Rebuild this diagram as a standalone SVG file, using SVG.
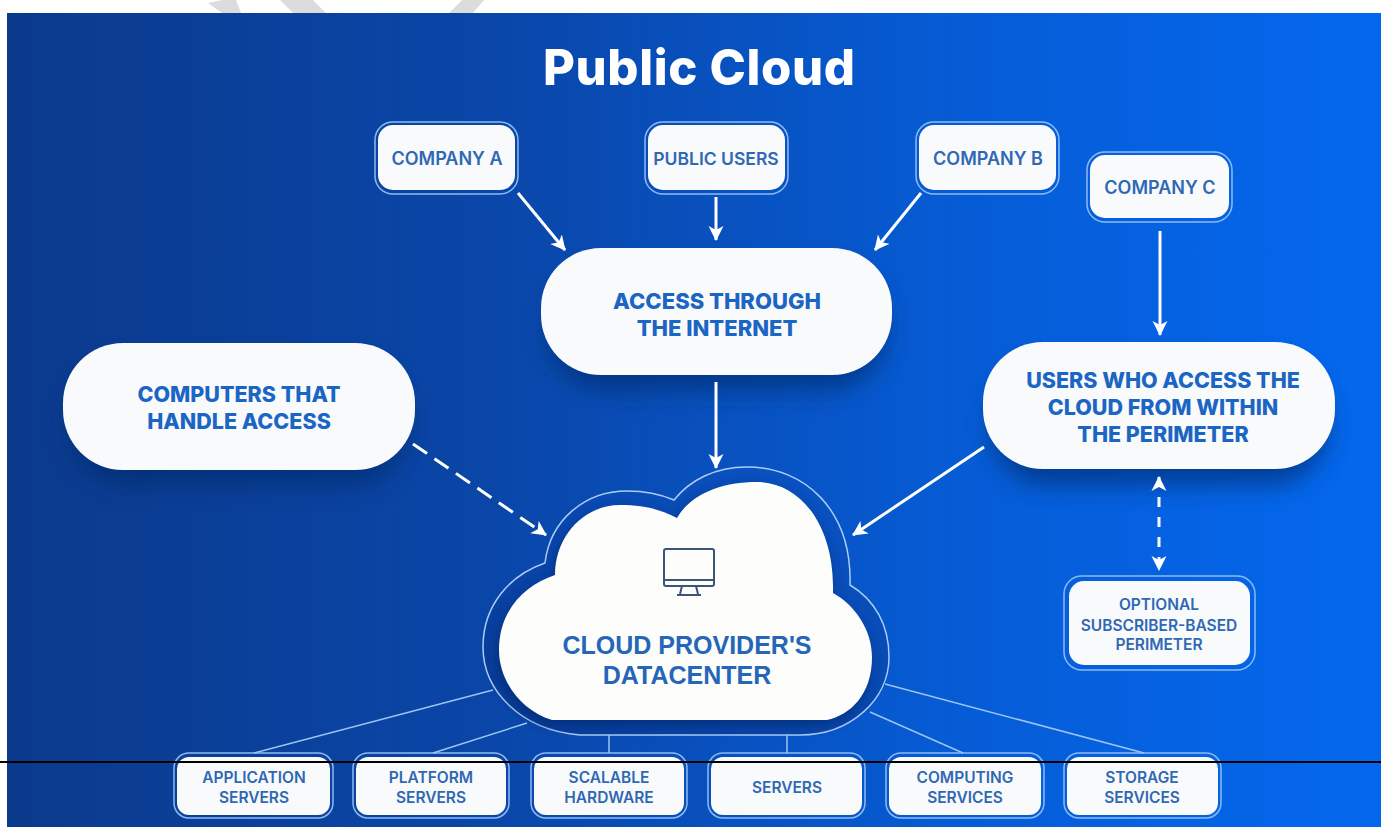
<svg xmlns="http://www.w3.org/2000/svg" width="1381" height="827" viewBox="0 0 1381 827">
<defs>
<linearGradient id="bg" x1="0" y1="0" x2="1" y2="0"><stop offset="0" stop-color="#0b3a8c"/><stop offset="0.35" stop-color="#0a46a8"/><stop offset="0.7" stop-color="#065cd6"/><stop offset="1" stop-color="#0468ee"/></linearGradient>
<linearGradient id="ring" x1="0" y1="1" x2="1" y2="0"><stop offset="0" stop-color="#083a94"/><stop offset="1" stop-color="#0a55c8"/></linearGradient>
<filter id="sh" x="-20%" y="-30%" width="140%" height="180%"><feGaussianBlur stdDeviation="12"/></filter>
<filter id="sm" x="-10%" y="-10%" width="120%" height="120%"><feGaussianBlur stdDeviation="6"/></filter>
<marker id="a" markerUnits="userSpaceOnUse" markerWidth="16" markerHeight="16" refX="14" refY="8" orient="auto-start-reverse"><path d="M0 0.5L15 8L0 15.5L4 8Z" fill="#fff"/></marker>
<path id="cloud" d="M552 720C520 710 499 680 499 650C499 610 525 585 555 575C555 535 585 505 620 505C645 505 662 510 677 518C690 495 720 482 757 482C800 482 835 525 833 593C855 605 872 630 872 657C872 695 850 715 827 720Z"/>
</defs>
<style>
.c{stroke:#fff;stroke-width:3;fill:none;marker-end:url(#a)}
.t{stroke:#9cc4f5;stroke-width:1.5;fill:none}
.f{fill:#f9fafb}
.o{fill:none;stroke:#8dbaf2;stroke-width:1.5}
.s{fill:#06296b;opacity:.65}
text{font-family:"Inter","Liberation Sans",Arial,sans-serif;font-weight:600;fill:#2f68b4;text-anchor:middle}
.b{font-weight:800;font-size:21.5px;fill:#1b65c4}
.m{font-size:18px}
.n{font-size:15.5px}
</style>
<rect width="1381" height="827" fill="#fff"/>
<path d="M208 3L222 0H236L241 13H222ZM280 0H313L326 13H293ZM462 0H484L473 13H449Z" fill="#dcdcdc"/>
<rect x="7" y="13" width="1374" height="814" fill="url(#bg)"/>
<text x="699" y="85" font-size="49" style="fill:#fff;font-weight:800" textLength="312">Public Cloud</text>
<g id="cloud-node">
<path d="M580 735C520 730 483 690 483 647C483 605 510 575 545 563C550 520 585 491 627 491C645 491 660 494 674 500C690 480 715 467 747 467C805 467 852 510 850 585C875 600 889 625 889 657C889 700 850 735 800 735Z" fill="url(#ring)" stroke="#a9cdf7" stroke-width="1.5"/>
<use href="#cloud" fill="#062a70" opacity=".7" filter="url(#sm)" transform="translate(-2 5)"/>
<use href="#cloud" fill="#fdfdfb"/>
<text x="687" y="654" font-size="25" style="font-family:'Liberation Sans',Arial,sans-serif;font-weight:700;fill:#2566b8">CLOUD PROVIDER'S</text>
<text x="687" y="684" font-size="25" style="font-family:'Liberation Sans',Arial,sans-serif;font-weight:700;fill:#2566b8">DATACENTER</text>
<g fill="none" stroke="#3a5578" stroke-width="2"><rect x="664" y="549" width="50" height="37" rx="2"/><path d="M664 580H714M682 586L680 594M696 586L698 594M677 595H701"/></g>
</g>
<g id="company-a"><rect class="o" x="375" y="122" width="143" height="72" rx="18"/><rect class="f" x="378" y="125" width="137" height="65" rx="15"/><text class="m" x="447" y="165">COMPANY A</text></g>
<g id="public-users"><rect class="o" x="645" y="122" width="143" height="72" rx="18"/><rect class="f" x="648" y="125" width="137" height="65" rx="15"/><text class="m" x="716" y="165" style="font-size:17.5px">PUBLIC USERS</text></g>
<g id="company-b"><rect class="o" x="916" y="122" width="143" height="72" rx="18"/><rect class="f" x="919" y="125" width="137" height="65" rx="15"/><text class="m" x="988" y="165">COMPANY B</text></g>
<g id="company-c"><rect class="o" x="1087" y="152" width="145" height="70" rx="18"/><rect class="f" x="1090" y="155" width="139" height="63" rx="15"/><text class="m" x="1160" y="194">COMPANY C</text></g>
<g id="access"><rect class="s" x="548" y="268" width="338" height="122" rx="58" filter="url(#sh)"/><rect class="f" x="541" y="248" width="351" height="127" rx="60"/><text class="b" x="717" y="309" style="font-size:22px">ACCESS THROUGH</text><text class="b" x="717" y="336" style="font-size:22px">THE INTERNET</text></g>
<g id="computers"><rect class="s" x="70" y="363" width="338" height="122" rx="58" filter="url(#sh)"/><rect class="f" x="63" y="343" width="352" height="127" rx="60"/><text class="b" x="239" y="402">COMPUTERS THAT</text><text class="b" x="239" y="429">HANDLE ACCESS</text></g>
<g id="perimeter-users"><rect class="s" x="990" y="363" width="338" height="122" rx="58" filter="url(#sh)"/><rect class="f" x="983" y="342" width="352" height="127" rx="60"/><text class="b" x="1163" y="388">USERS WHO ACCESS THE</text><text class="b" x="1163" y="415">CLOUD FROM WITHIN</text><text class="b" x="1163" y="442">THE PERIMETER</text></g>
<g id="optional"><rect class="o" x="1064" y="576" width="191" height="94" rx="18"/><rect class="f" x="1069" y="581" width="181" height="84" rx="15"/><text class="n" x="1159" y="610">OPTIONAL</text><text class="n" x="1159" y="631">SUBSCRIBER-BASED</text><text class="n" x="1159" y="650">PERIMETER</text></g>
<g id="app"><rect class="o" x="174" y="753" width="159" height="65" rx="15"/><rect class="f" x="177" y="757" width="153" height="58" rx="12"/><text class="n" x="254" y="783">APPLICATION</text><text class="n" x="254" y="803">SERVERS</text></g>
<g id="plat"><rect class="o" x="353" y="753" width="156" height="65" rx="15"/><rect class="f" x="356" y="757" width="150" height="58" rx="12"/><text class="n" x="431" y="783">PLATFORM</text><text class="n" x="431" y="803">SERVERS</text></g>
<g id="scal"><rect class="o" x="531" y="753" width="156" height="65" rx="15"/><rect class="f" x="534" y="757" width="150" height="58" rx="12"/><text class="n" x="609" y="783">SCALABLE</text><text class="n" x="609" y="803">HARDWARE</text></g>
<g id="serv"><rect class="o" x="708" y="753" width="157" height="65" rx="15"/><rect class="f" x="711" y="757" width="151" height="58" rx="12"/><text class="n" x="787" y="793">SERVERS</text></g>
<g id="comp"><rect class="o" x="886" y="753" width="158" height="65" rx="15"/><rect class="f" x="889" y="757" width="152" height="58" rx="12"/><text class="n" x="965" y="783">COMPUTING</text><text class="n" x="965" y="803">SERVICES</text></g>
<g id="stor"><rect class="o" x="1064" y="753" width="157" height="65" rx="15"/><rect class="f" x="1067" y="757" width="151" height="58" rx="12"/><text class="n" x="1142" y="783">STORAGE</text><text class="n" x="1142" y="803">SERVICES</text></g>
<g id="connectors">
<path class="c" d="M518 193L565 250"/><path class="c" d="M716 197V240"/><path class="c" d="M921 193L875 250"/><path class="c" d="M1160 231V335"/><path class="c" d="M716 382V468"/><path class="c" stroke-dasharray="17 9" d="M413 444L546 535"/><path class="c" d="M984 447L853 535"/>
<path class="c" stroke-dasharray="10 10" marker-start="url(#a)" d="M1159 477V570"/>
<path class="t" d="M254 753L493 690M433 753L527 723M609 735V753M787 735V753M870 712L963 753M885 684L1144 753"/>
</g>
<rect x="0" y="761" width="1381" height="2" fill="#000"/>
</svg>
